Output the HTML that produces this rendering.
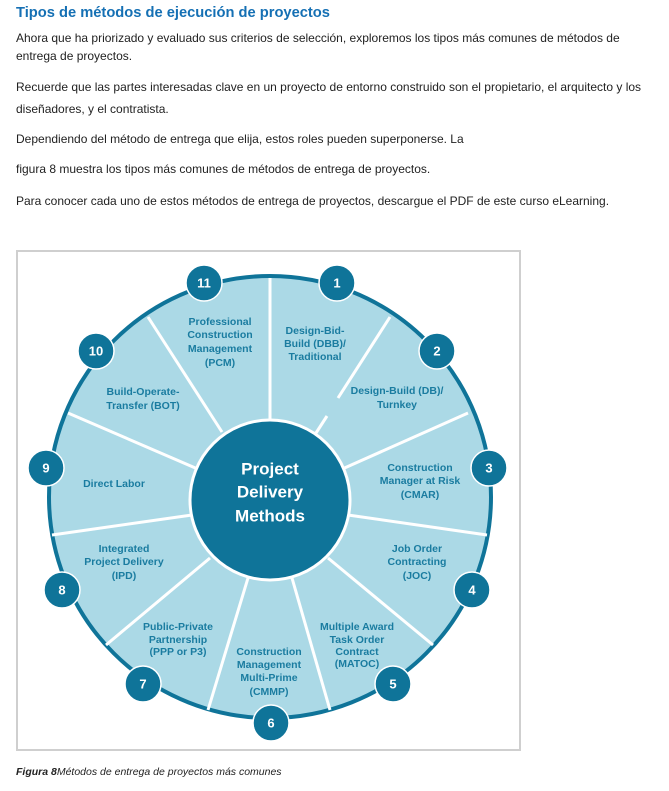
<!DOCTYPE html>
<html><head><meta charset="utf-8"><style>
html,body{margin:0;padding:0;background:#fff;width:669px;height:791px;overflow:hidden;position:relative;font-family:"Liberation Sans",sans-serif}
.p{position:absolute;left:16px;font-size:12px;color:#222;white-space:nowrap}
h1{position:absolute;left:16px;top:5px;margin:0;font-size:14.7px;color:#1570b4;font-weight:bold}
svg{position:absolute;left:0;top:0}
</style></head><body>
<h1>Tipos de métodos de ejecución de proyectos</h1>
<div class="p" style="top:31px">Ahora que ha priorizado y evaluado sus criterios de selección, exploremos los tipos más comunes de métodos de</div>
<div class="p" style="top:49px">entrega de proyectos.</div>
<div class="p" style="top:80px">Recuerde que las partes interesadas clave en un proyecto de entorno construido son el propietario, el arquitecto y los</div>
<div class="p" style="top:102px">diseñadores, y el contratista.</div>
<div class="p" style="top:132px">Dependiendo del método de entrega que elija, estos roles pueden superponerse. La</div>
<div class="p" style="top:162px">figura 8 muestra los tipos más comunes de métodos de entrega de proyectos.</div>
<div class="p" style="top:194px">Para conocer cada uno de estos métodos de entrega de proyectos, descargue el PDF de este curso eLearning.</div>
<div class="p" style="top:766px;font-style:italic;font-size:10.5px"><b>Figura 8</b>Métodos de entrega de proyectos más comunes</div>
<svg width="669" height="791" viewBox="0 0 669 791">
<rect x="17" y="251" width="503" height="499" fill="#fff" stroke="#cfcfcf" stroke-width="2"/>
<circle cx="270" cy="497" r="221" fill="#abd9e6" stroke="#0f7499" stroke-width="4"/>
<g stroke="#fff" stroke-width="3" stroke-linecap="butt">
<line x1="270" y1="278" x2="270" y2="420"/>
<line x1="390" y1="317" x2="338" y2="398"/>
<line x1="327" y1="416" x2="316" y2="433"/>
<line x1="468" y1="413" x2="340" y2="470"/>
<line x1="487" y1="535" x2="348" y2="515"/>
<line x1="433" y1="645" x2="328" y2="558"/>
<line x1="330" y1="710" x2="292" y2="578"/>
<line x1="208" y1="710" x2="248" y2="578"/>
<line x1="106" y1="645" x2="210" y2="558"/>
<line x1="52" y1="535" x2="192" y2="515"/>
<line x1="68" y1="413" x2="200" y2="470"/>
<line x1="148" y1="317" x2="222" y2="432"/>
</g>
<circle cx="270" cy="500" r="80" fill="#0f7499" stroke="#fff" stroke-width="3"/>
<g fill="#fff" font-weight="bold" font-size="17" text-anchor="middle" dominant-baseline="central">
<text x="270" y="469">Project</text><text x="270" y="492">Delivery</text><text x="270" y="516">Methods</text>
</g>
<g fill="#1a7ca0" font-weight="bold" font-size="10.5" text-anchor="middle" dominant-baseline="central">
<text x="220" y="322">Professional</text><text x="220" y="335">Construction</text><text x="220" y="349">Management</text><text x="220" y="363">(PCM)</text>
<text x="315" y="331">Design-Bid-</text><text x="315" y="344">Build (DBB)/</text><text x="315" y="357">Traditional</text>
<text x="397" y="391">Design-Build (DB)/</text><text x="397" y="405">Turnkey</text>
<text x="420" y="468">Construction</text><text x="420" y="481">Manager at Risk</text><text x="420" y="495">(CMAR)</text>
<text x="417" y="549">Job Order</text><text x="417" y="562">Contracting</text><text x="417" y="576">(JOC)</text>
<text x="357" y="627">Multiple Award</text><text x="357" y="640">Task Order</text><text x="357" y="652">Contract</text><text x="357" y="664">(MATOC)</text>
<text x="269" y="652">Construction</text><text x="269" y="665">Management</text><text x="269" y="678">Multi-Prime</text><text x="269" y="692">(CMMP)</text>
<text x="178" y="627">Public-Private</text><text x="178" y="640">Partnership</text><text x="178" y="652">(PPP or P3)</text>
<text x="124" y="549">Integrated</text><text x="124" y="562">Project Delivery</text><text x="124" y="576">(IPD)</text>
<text x="114" y="484">Direct Labor</text>
<text x="143" y="392">Build-Operate-</text><text x="143" y="406">Transfer (BOT)</text>
</g>
<g fill="#0f7499" stroke="#fff" stroke-width="1.5">
<circle cx="337" cy="283" r="18"/><circle cx="437" cy="351" r="18"/><circle cx="489" cy="468" r="18"/>
<circle cx="472" cy="590" r="18"/><circle cx="393" cy="684" r="18"/><circle cx="271" cy="723" r="18"/>
<circle cx="143" cy="684" r="18"/><circle cx="62" cy="590" r="18"/><circle cx="46" cy="468" r="18"/>
<circle cx="96" cy="351" r="18"/><circle cx="204" cy="283" r="18"/>
</g>
<g fill="#fff" font-weight="bold" font-size="13" text-anchor="middle" dominant-baseline="central">
<text x="337" y="283">1</text><text x="437" y="351">2</text><text x="489" y="468">3</text>
<text x="472" y="590">4</text><text x="393" y="684">5</text><text x="271" y="723">6</text>
<text x="143" y="684">7</text><text x="62" y="590">8</text><text x="46" y="468">9</text>
<text x="96" y="351">10</text><text x="204" y="283">11</text>
</g>
</svg>
</body></html>
